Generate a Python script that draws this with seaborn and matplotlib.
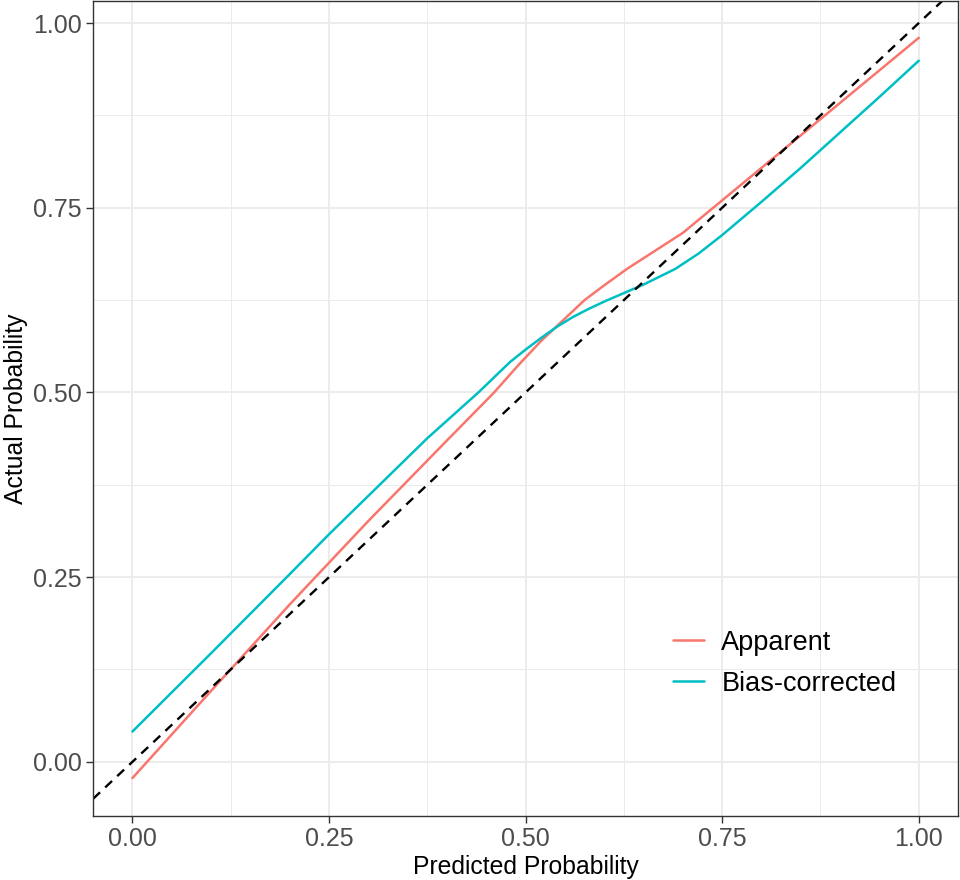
import numpy as np
import pandas as pd
import matplotlib
matplotlib.use("Agg")
import matplotlib.pyplot as plt
from matplotlib.ticker import MultipleLocator
import seaborn as sns

# kalibreerimiskõverad (loetud pildilt)
apparent_x = [0.00, 0.10, 0.20, 0.30, 0.40, 0.46, 0.49, 0.52, 0.55, 0.575, 0.60, 0.63, 0.70, 0.75, 0.80, 0.90, 1.00]
apparent_y = [-0.022, 0.096, 0.213, 0.326, 0.435, 0.500, 0.536, 0.570, 0.600, 0.625, 0.645, 0.668, 0.716, 0.760, 0.804, 0.892, 0.980]

bias_x = [0.00, 0.10, 0.20, 0.25, 0.375, 0.44, 0.48, 0.50, 0.52, 0.54, 0.56, 0.58, 0.60, 0.65, 0.69, 0.72, 0.75, 0.80, 0.85, 0.90, 0.95, 1.00]
bias_y = [0.041, 0.147, 0.254, 0.308, 0.438, 0.500, 0.541, 0.558, 0.574, 0.589, 0.602, 0.613, 0.623, 0.646, 0.667, 0.688, 0.713, 0.758, 0.804, 0.852, 0.900, 0.949]

labels = ["Apparent", "Bias-corrected"]
colors = ["#F8766D", "#00BFC4"]
ticks = [0.00, 0.25, 0.50, 0.75, 1.00]

df = pd.concat([
    pd.DataFrame({"x": apparent_x, "y": apparent_y, "type": labels[0]}),
    pd.DataFrame({"x": bias_x, "y": bias_y, "type": labels[1]}),
])

sns.set_theme(style="white")
plt.rcParams["font.family"] = ["Liberation Sans", "DejaVu Sans"]

fig = plt.figure(figsize=(9.6, 8.8), dpi=100)
ax = fig.add_axes([0.097, 0.073, 0.901, 0.926])

sns.lineplot(data=df, x="x", y="y", hue="type", palette=colors,
             linewidth=1.8, sort=False, estimator=None, ax=ax)
ax.axline((0, 0), slope=1, color="black", linestyle=(0, (4, 3)), linewidth=1.7)

ax.set_xlim(-0.05, 1.05)
ax.set_ylim(-0.073, 1.03)
ax.xaxis.set_minor_locator(MultipleLocator(0.125))
ax.yaxis.set_minor_locator(MultipleLocator(0.125))
ax.set_xticks(ticks)
ax.set_yticks(ticks)
ax.set_xticklabels([f"{t:.2f}" for t in ticks])
ax.set_yticklabels([f"{t:.2f}" for t in ticks])

ax.grid(which="major", color="#EBEBEB", linewidth=1.3)
ax.grid(which="minor", color="#EBEBEB", linewidth=0.7)
ax.set_axisbelow(True)
for s in ax.spines.values():
    s.set_color("#333333")
    s.set_linewidth(1.0)

ax.tick_params(axis="both", which="major", length=5, width=1.0, color="#333333",
               labelsize=18, labelcolor="#4D4D4D", direction="out",
               bottom=True, left=True, pad=3)
ax.tick_params(which="minor", length=0)

ax.set_xlabel("Predicted Probability", fontsize=17.8, color="black", labelpad=3)
ax.set_ylabel("Actual Probability", fontsize=17.8, color="black", labelpad=4)

leg = ax.legend(title=None, loc="upper left", bbox_to_anchor=(0.670, 0.228),
                fontsize=19.5, frameon=False, handlelength=1.15,
                handletextpad=0.65, labelspacing=0.55, borderpad=0,
                borderaxespad=0)
for t in leg.get_texts():
    t.set_color("black")

fig.savefig("out.png", dpi=100)
